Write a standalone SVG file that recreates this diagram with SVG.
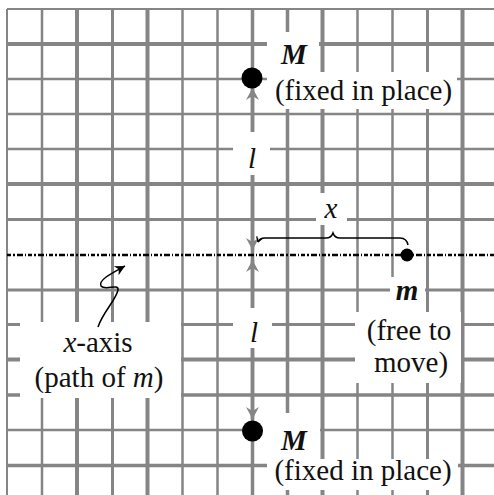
<svg xmlns="http://www.w3.org/2000/svg" width="494" height="495" viewBox="0 0 494 495">
<style>
.g{stroke:#858585;fill:none}
.t{font-family:"Liberation Serif","Times New Roman",serif;font-size:29px;fill:#111}
.bi{font-weight:bold;font-style:italic}
.i{font-style:italic}
.w{fill:#fff}
</style>
<defs>
<marker id="ga" markerUnits="userSpaceOnUse" markerWidth="16" markerHeight="16" viewBox="-13 -8 16 16" refX="0" refY="0" orient="auto-start-reverse">
<path d="M0,0 L-12,-6.5 L-8,0 L-12,6.5 Z" fill="#858585"/>
</marker>
<marker id="ba" markerUnits="userSpaceOnUse" markerWidth="14" markerHeight="14" viewBox="-11 -7 14 14" refX="0" refY="0" orient="auto-start-reverse">
<path d="M0,0 L-10,-5 L-7,0 L-10,5 Z" fill="#000"/>
</marker>
<marker id="bs" markerUnits="userSpaceOnUse" markerWidth="10" markerHeight="10" viewBox="-6 -5 10 10" refX="0" refY="0" orient="auto-start-reverse">
<path d="M0,0 L-5,-3 M0,0 L-5,3" stroke="#000" stroke-width="1.3" fill="none"/>
</marker>
</defs>
<rect width="494" height="495" fill="#fff"/>
<g id="grid" class="g">
<line x1="7" y1="9" x2="7" y2="495" stroke-width="2"/>
<line x1="42" y1="9" x2="42" y2="495" stroke-width="2.5"/>
<line x1="77" y1="9" x2="77" y2="495" stroke-width="4"/>
<line x1="112.5" y1="9" x2="112.5" y2="495" stroke-width="3"/>
<line x1="147.5" y1="9" x2="147.5" y2="495" stroke-width="4"/>
<line x1="182.5" y1="9" x2="182.5" y2="495" stroke-width="2.5"/>
<line x1="217.5" y1="9" x2="217.5" y2="495" stroke-width="2.5"/>
<line x1="252.5" y1="9" x2="252.5" y2="495" stroke-width="3.5"/>
<line x1="287.5" y1="9" x2="287.5" y2="495" stroke-width="3.5"/>
<line x1="322.5" y1="9" x2="322.5" y2="495" stroke-width="4"/>
<line x1="357.5" y1="9" x2="357.5" y2="495" stroke-width="2.5"/>
<line x1="392.5" y1="9" x2="392.5" y2="495" stroke-width="2.5"/>
<line x1="427.5" y1="9" x2="427.5" y2="495" stroke-width="3"/>
<line x1="462.5" y1="9" x2="462.5" y2="495" stroke-width="4"/>
<line x1="7" y1="9" x2="494" y2="9" stroke-width="2"/>
<line x1="7" y1="44" x2="494" y2="44" stroke-width="4"/>
<line x1="7" y1="79" x2="494" y2="79" stroke-width="2.5"/>
<line x1="7" y1="114" x2="494" y2="114" stroke-width="2.5"/>
<line x1="7" y1="149" x2="494" y2="149" stroke-width="2.5"/>
<line x1="7" y1="184" x2="494" y2="184" stroke-width="4"/>
<line x1="7" y1="219.5" x2="494" y2="219.5" stroke-width="3"/>
<line x1="7" y1="290" x2="494" y2="290" stroke-width="3"/>
<line x1="7" y1="324.5" x2="494" y2="324.5" stroke-width="3"/>
<line x1="7" y1="359.5" x2="494" y2="359.5" stroke-width="4"/>
<line x1="7" y1="395" x2="494" y2="395" stroke-width="3.5"/>
<line x1="7" y1="430" x2="494" y2="430" stroke-width="2.5"/>
<line x1="7" y1="465.5" x2="494" y2="465.5" stroke-width="3.5"/>
</g>
<g id="label-backgrounds" class="w">
<rect x="267" y="32" width="52" height="40"/>
<rect x="267" y="72" width="190" height="37"/>
<rect x="233" y="132" width="37" height="43"/>
<rect x="316" y="193" width="31" height="32"/>
<rect x="390" y="277" width="35" height="35"/>
<rect x="355" y="312" width="106" height="71"/>
<rect x="233" y="308" width="39" height="40"/>
<rect x="20" y="322" width="161" height="76"/>
<rect x="263" y="413" width="57" height="47"/>
<rect x="267" y="459" width="191" height="31"/>
</g>
<g id="x-axis">
<line x1="7" y1="255" x2="494" y2="255" stroke="#000" stroke-width="2.5" stroke-dasharray="4 2 2 2 6 2 1 2"/>
</g>
<g id="connectors" fill="none">
<line x1="252.5" y1="88" x2="252.5" y2="132" stroke="#858585" stroke-width="3.5" marker-start="url(#ga)"/>
<line x1="252.5" y1="175" x2="252.5" y2="250" stroke="#858585" stroke-width="3.5" marker-end="url(#ga)"/>
<line x1="252.5" y1="260" x2="252.5" y2="308" stroke="#858585" stroke-width="3.5" marker-start="url(#ga)"/>
<line x1="252.5" y1="348" x2="252.5" y2="419" stroke="#858585" stroke-width="3.5" marker-end="url(#ga)"/>
<path d="M258,242 C259,239 261,238 265,238 L326,238 C330,238 332,236 333,233 C334,236 336,238 340,238 L400,238 C404,238 407,240 408,245" stroke="#000" stroke-width="1.5" marker-start="url(#bs)"/>
<path d="M98,327 C103,312 116,300 118,290 C119,283 105,291 101,286 C98,280 112,273 125,266" stroke="#000" stroke-width="1.5" marker-end="url(#ba)"/>
</g>
<g id="node-M-top">
<circle cx="252" cy="78" r="10.5" fill="#000"/>
<text class="t bi" x="294" y="64" text-anchor="middle">M</text>
<text class="t" x="363.5" y="100" text-anchor="middle">(fixed in place)</text>
</g>
<g id="label-l-top"><text class="t i" x="252" y="168" text-anchor="middle">l</text></g>
<g id="label-x"><text class="t i" x="331" y="218" text-anchor="middle">x</text></g>
<g id="node-m">
<circle cx="407" cy="255" r="6.5" fill="#000"/>
<text class="t bi" x="407" y="300" text-anchor="middle">m</text>
<text class="t" x="409" y="340" text-anchor="middle">(free to</text>
<text class="t" x="411" y="372" text-anchor="middle">move)</text>
</g>
<g id="label-l-bottom"><text class="t i" x="254" y="342" text-anchor="middle">l</text></g>
<g id="label-x-axis">
<text class="t" x="98" y="352" text-anchor="middle"><tspan class="i">x</tspan>-axis</text>
<text class="t" x="99" y="387" text-anchor="middle">(path of <tspan class="i">m</tspan>)</text>
</g>
<g id="node-M-bottom">
<circle cx="252.5" cy="431" r="10.5" fill="#000"/>
<text class="t bi" x="294" y="450" text-anchor="middle">M</text>
<text class="t" x="363" y="480" text-anchor="middle">(fixed in place)</text>
</g>
</svg>
